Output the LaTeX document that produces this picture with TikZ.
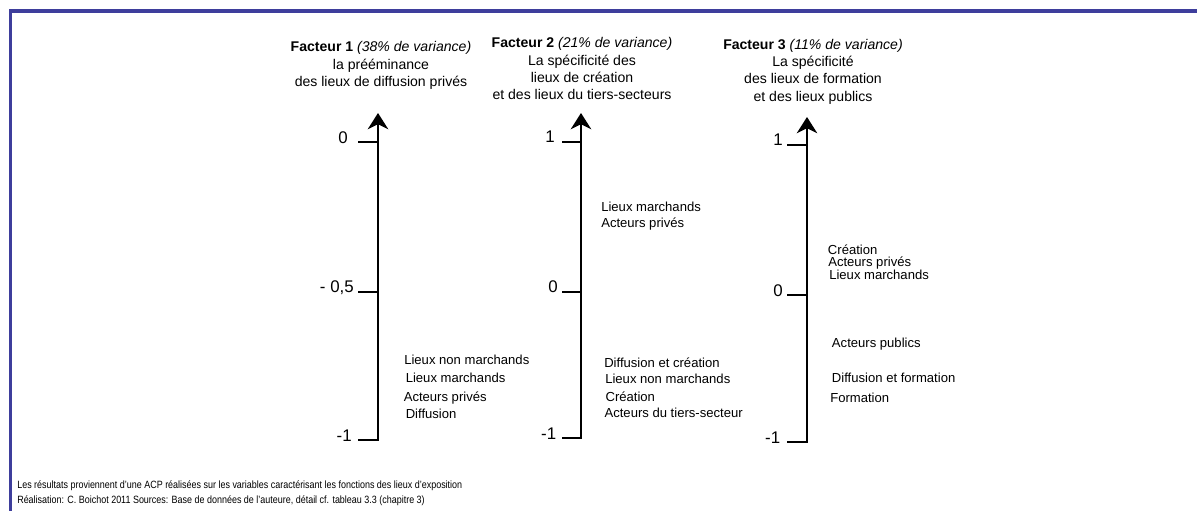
\documentclass[tikz,border=0pt]{standalone}
\usepackage{fontspec}
\setmainfont{Liberation Sans}
\newfontfamily\etroit[FakeStretch=0.85]{Liberation Sans}
\usetikzlibrary{arrows.meta}
\definecolor{cadre}{RGB}{62,62,156}

\begin{document}
\begin{tikzpicture}[x=0.025cm,y=-0.025cm,
    axe/.style={line width=1.4pt,-{Stealth[length=11.5pt,width=14.5pt,inset=3.5pt]}},
    grad/.style={line width=1.4pt},
    titre/.style={align=center,anchor=north,inner sep=0pt,font=\fontsize{10pt}{12.3pt}\selectfont},
    val/.style={anchor=base east,inner sep=0pt,font=\fontsize{12pt}{14pt}\selectfont},
    lieu/.style={anchor=base west,inner sep=0pt,font=\fontsize{9.3pt}{11pt}\selectfont},
    note/.style={anchor=base west,inner sep=0pt,font=\etroit\fontsize{7.5pt}{9pt}\selectfont}]
    \useasboundingbox (0,0) rectangle (1197,511);
    \draw[cadre,line width=2.3pt] (10.5,511) -- (10.5,11) -- (1197,11);

    % facteur 1
    \node[titre] (t1) at (381,41.3) {\textbf{Facteur 1} \textit{(38\% de variance)}\\la prééminance\\des lieux de diffusion privés};
    \coordinate (h1) at (378,113);
    \coordinate (b1) at (378,440);
    \coordinate (g1a) at (358,142);
    \coordinate (g1b) at (358,292);
    \coordinate (g1c) at (358,440);
    \draw[axe] (g1c) -- (b1) -- (h1);
    \draw[grad] (g1a) -- (378,142);
    \draw[grad] (g1b) -- (378,292);
    \node[val] (v1a) at (348,144) {0};
    \node[val] (v1b) at (354,293) {- 0,5};
    \node[val] (v1c) at (352,441) {-1};
    \node[lieu] (l1a) at (404,364.5) {Lieux non marchands};
    \node[lieu] (l1b) at (405.5,382.5) {Lieux marchands};
    \node[lieu] (l1c) at (403.5,401) {Acteurs privés};
    \node[lieu] (l1d) at (405.5,418.5) {Diffusion};

    % facteur 2
    \node[titre] (t2) at (582,37.3) {\textbf{Facteur 2} \textit{(21\% de variance)}\\La spécificité des\\lieux de création\\et des lieux du tiers-secteurs};
    \coordinate (h2) at (581,113);
    \coordinate (b2) at (581,438);
    \coordinate (g2a) at (562,142);
    \coordinate (g2b) at (562,292);
    \coordinate (g2c) at (562,438);
    \draw[axe] (g2c) -- (b2) -- (h2);
    \draw[grad] (g2a) -- (581,142);
    \draw[grad] (g2b) -- (581,292);
    \node[val] (v2a) at (555,143) {1};
    \node[val] (v2b) at (558,293) {0};
    \node[val] (v2c) at (556.5,439) {-1};
    \node[lieu] (l2a) at (601,212) {Lieux marchands};
    \node[lieu] (l2b) at (601,228) {Acteurs privés};
    \node[lieu] (l2c) at (604,367.5) {Diffusion et création};
    \node[lieu] (l2d) at (605,384) {Lieux non marchands};
    \node[lieu] (l2e) at (605.3,401) {Création};
    \node[lieu] (l2f) at (604.3,417.3) {Acteurs du tiers-secteur};

    % facteur 3
    \node[titre] (t3) at (813,38.8) {\textbf{Facteur 3} \textit{(11\% de variance)}\\La spécificité\\des lieux de formation\\et des lieux publics};
    \coordinate (h3) at (807,117);
    \coordinate (b3) at (807,442);
    \coordinate (g3a) at (787,145);
    \coordinate (g3b) at (787,295);
    \coordinate (g3c) at (787,442);
    \draw[axe] (g3c) -- (b3) -- (h3);
    \draw[grad] (g3a) -- (807,145);
    \draw[grad] (g3b) -- (807,295);
    \node[val] (v3a) at (783,146) {1};
    \node[val] (v3b) at (783,296) {0};
    \node[val] (v3c) at (780.5,443) {-1};
    \node[lieu] (l3a) at (827.7,254.5) {Création};
    \node[lieu] (l3b) at (828,266.8) {Acteurs privés};
    \node[lieu] (l3c) at (829,279.5) {Lieux marchands};
    \node[lieu] (l3d) at (831.7,347.8) {Acteurs publics};
    \node[lieu] (l3e) at (831.7,382.8) {Diffusion et formation};
    \node[lieu] (l3f) at (830,402.8) {Formation};

    % source
    \node[note] (n1) at (17,488) {Les résultats proviennent d’une ACP réalisées sur les variables caractérisant les fonctions des lieux d’exposition};
    \node[note] (n2) at (17,503.5) {Réalisation: C. Boichot 2011 Sources: Base de données de l’auteure, détail cf. tableau 3.3 (chapitre 3)};
\end{tikzpicture}
\end{document}
